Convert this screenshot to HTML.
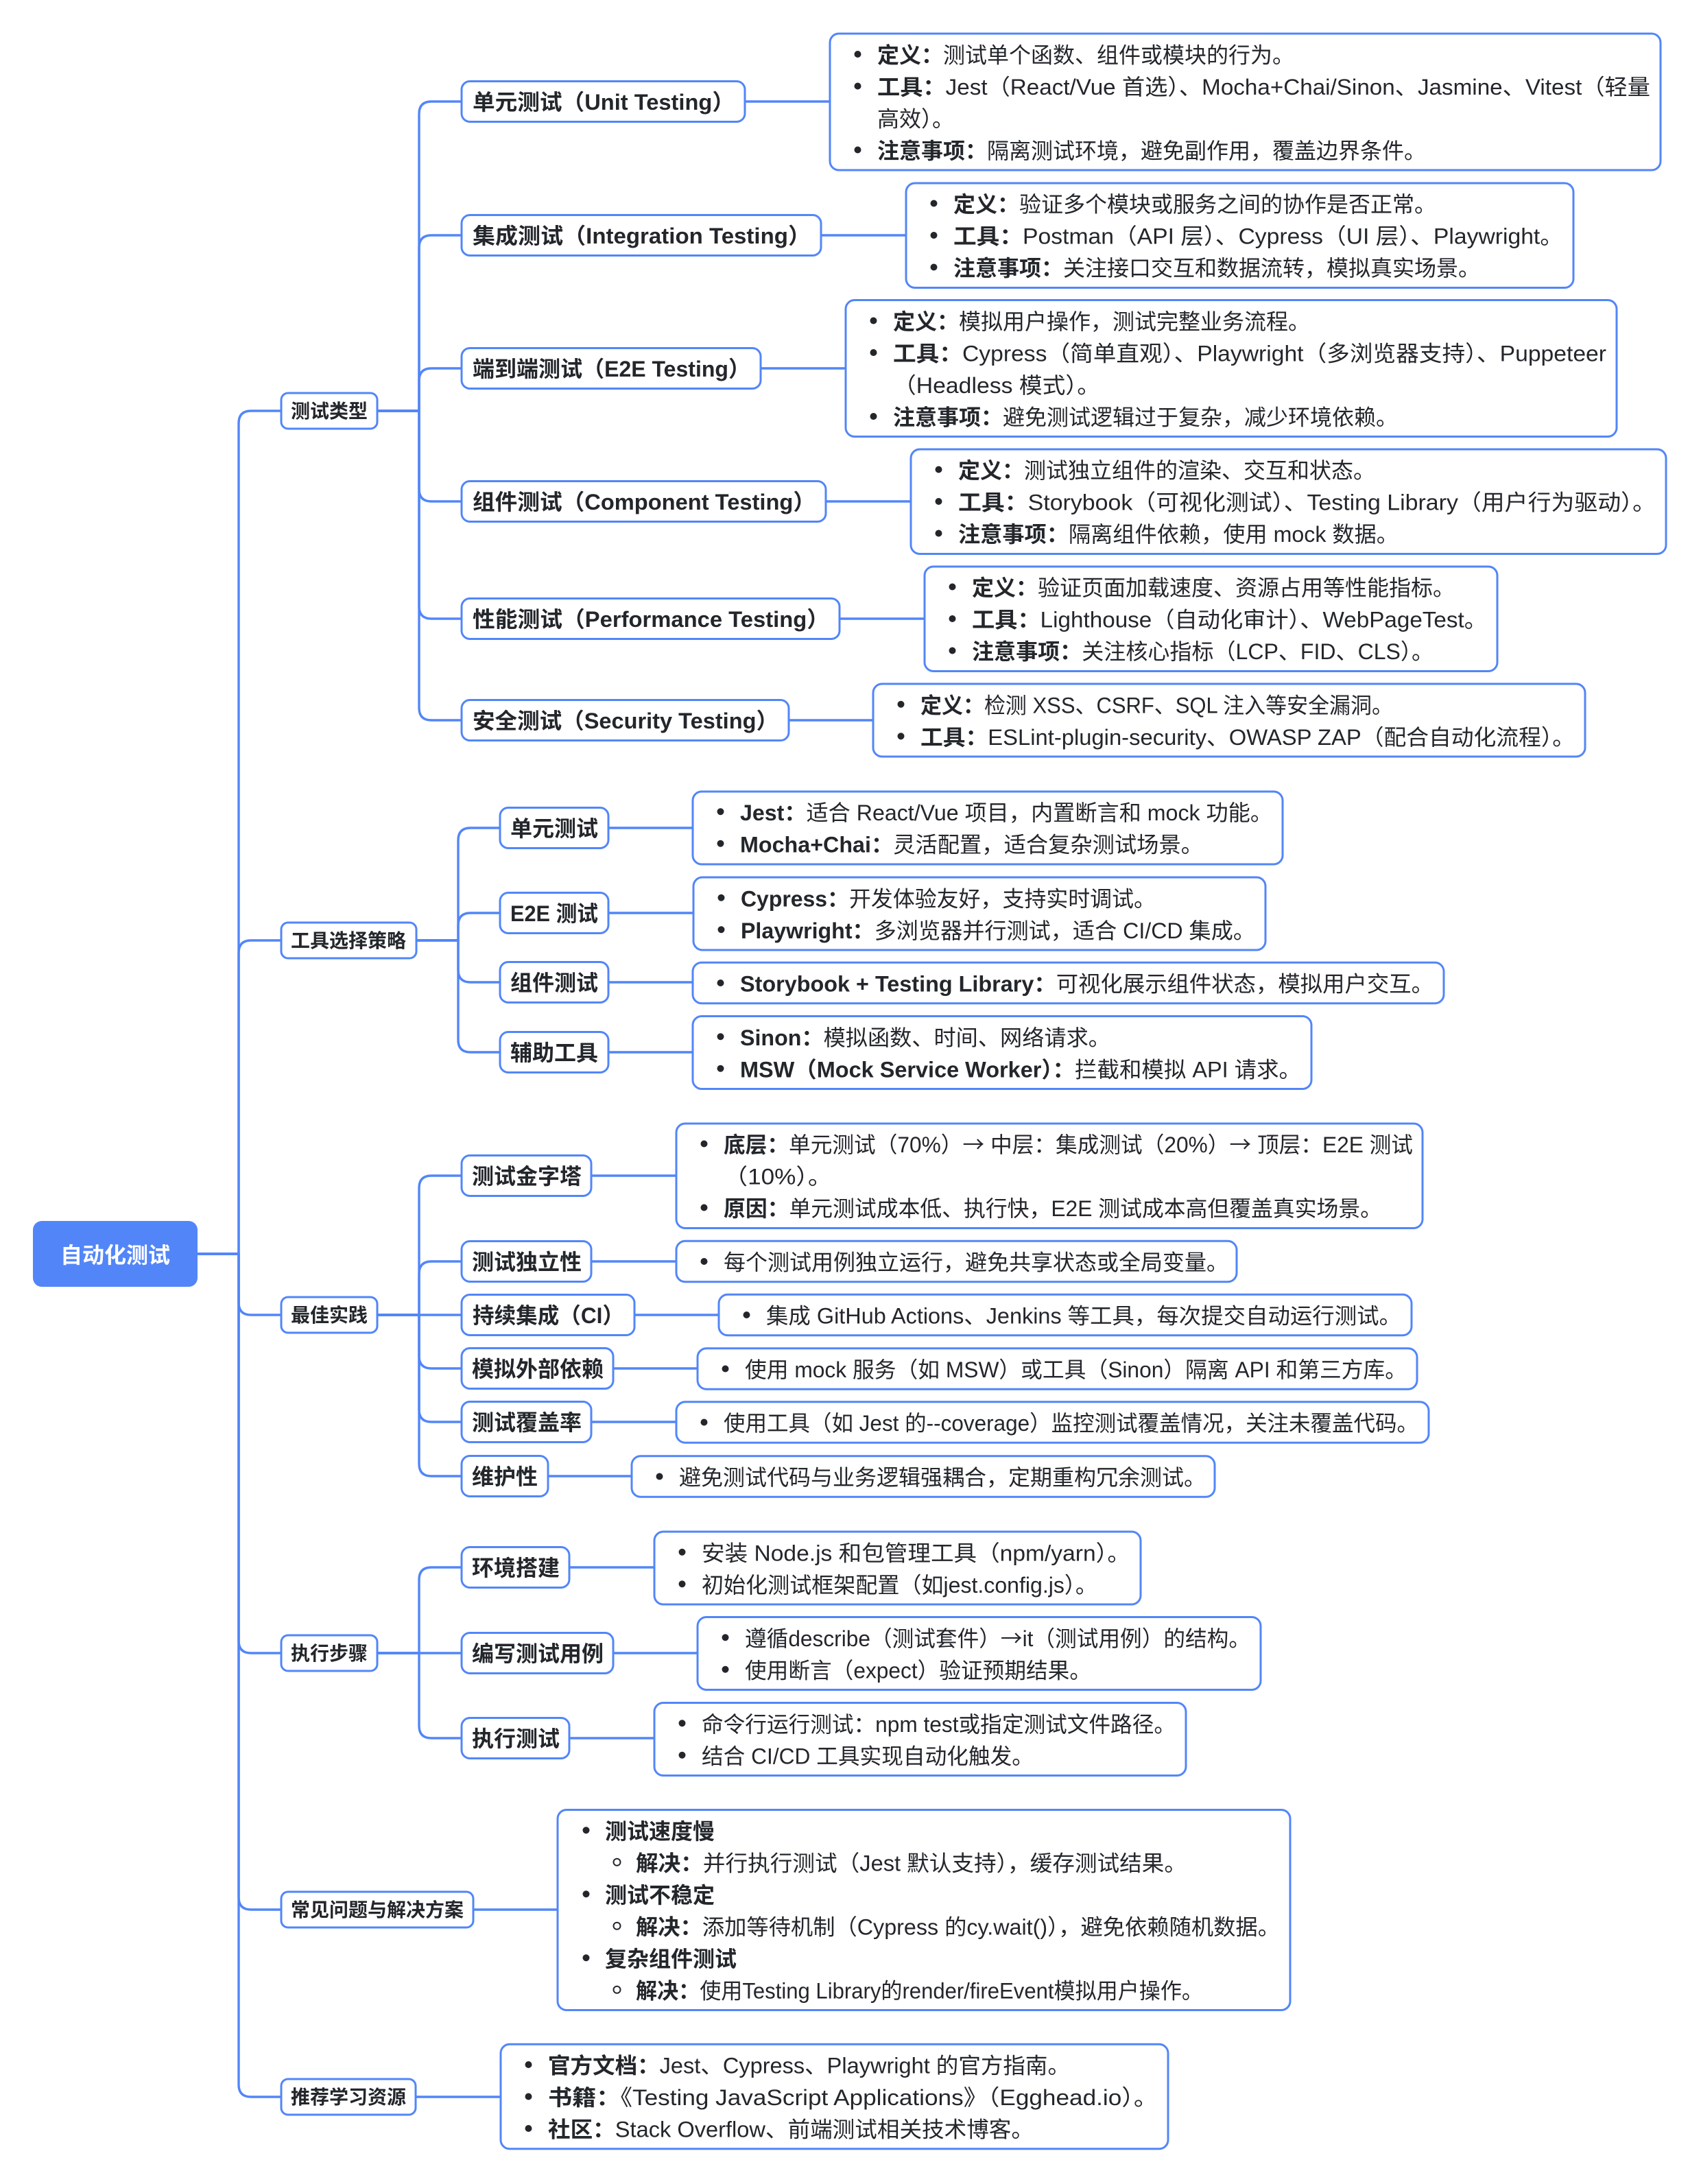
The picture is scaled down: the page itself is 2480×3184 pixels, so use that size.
<!DOCTYPE html>
<html><head><meta charset="utf-8">
<style>
html,body{margin:0;padding:0;background:#fff;}
svg{display:block;}
text{font-family:"Liberation Sans","Noto Sans CJK SC",sans-serif;font-size:32px;fill:#23262b;}
.b{font-weight:bold;}
.cj{font-family:"Noto Sans CJK SC",sans-serif;}
.n1{font-size:28px;font-weight:bold;}
.n2{font-size:32px;font-weight:bold;}
.root{font-size:32px;font-weight:bold;fill:#fff;}
.box{fill:#fff;stroke:#5286f8;stroke-width:3;}
.ln{fill:none;stroke:#5286f8;stroke-width:3.4;stroke-linecap:round;stroke-linejoin:round;}
.dot{fill:#23262b;}
.sub{fill:none;stroke:#23262b;stroke-width:2;}
</style></head>
<body>
<svg width="2480" height="3184" viewBox="0 0 2480 3184" xmlns="http://www.w3.org/2000/svg">
<rect x="0" y="0" width="2480" height="3184" fill="#fff"/>

<!-- ============ CONNECTORS ============ -->
<g class="ln">
<path d="M287 1828 H348 V617 Q348 599 366 599 H410"/>
<path d="M287 1828 H348 V1389 Q348 1371 366 1371 H410"/>
<path d="M287 1828 H348 V1899 Q348 1917 366 1917 H410"/>
<path d="M287 1828 H348 V2392 Q348 2410 366 2410 H410"/>
<path d="M287 1828 H348 V2766 Q348 2784 366 2784 H410"/>
<path d="M287 1828 H348 V3039 Q348 3057 366 3057 H410"/>

<path d="M550 599 H611 V166 Q611 148 629 148 H673"/>
<path d="M550 599 H611 V361 Q611 343 629 343 H673"/>
<path d="M550 599 H611 V555 Q611 537 629 537 H673"/>
<path d="M550 599 H611 V713 Q611 731 629 731 H673"/>
<path d="M550 599 H611 V884 Q611 902 629 902 H673"/>
<path d="M550 599 H611 V1032 Q611 1050 629 1050 H673"/>
<line x1="1086" y1="148" x2="1210" y2="148"/>
<line x1="1197" y1="343" x2="1321" y2="343"/>
<line x1="1109" y1="537" x2="1233" y2="537"/>
<line x1="1204" y1="731" x2="1328" y2="731"/>
<line x1="1224" y1="902" x2="1348" y2="902"/>
<line x1="1150" y1="1050" x2="1273" y2="1050"/>

<path d="M607 1371 H668 V1225 Q668 1207 686 1207 H729"/>
<path d="M607 1371 H668 V1349 Q668 1331 686 1331 H729"/>
<path d="M607 1371 H668 V1414 Q668 1432 686 1432 H729"/>
<path d="M607 1371 H668 V1516 Q668 1534 686 1534 H729"/>
<line x1="887" y1="1207" x2="1010" y2="1207"/>
<line x1="887" y1="1331" x2="1011" y2="1331"/>
<line x1="887" y1="1432" x2="1010" y2="1432"/>
<line x1="887" y1="1534" x2="1010" y2="1534"/>

<path d="M550 1917 H611 V1732 Q611 1714 629 1714 H673"/>
<path d="M550 1917 H611 V1857 Q611 1839 629 1839 H673"/>
<path d="M550 1917 H673"/>
<path d="M550 1917 H611 V1977 Q611 1995 629 1995 H673"/>
<path d="M550 1917 H611 V2055 Q611 2073 629 2073 H673"/>
<path d="M550 1917 H611 V2134 Q611 2152 629 2152 H673"/>
<line x1="862" y1="1714" x2="986" y2="1714"/>
<line x1="862" y1="1839" x2="986" y2="1839"/>
<line x1="925" y1="1917" x2="1048" y2="1917"/>
<line x1="894" y1="1995" x2="1017" y2="1995"/>
<line x1="862" y1="2073" x2="986" y2="2073"/>
<line x1="799" y1="2152" x2="921" y2="2152"/>

<path d="M550 2410 H611 V2303 Q611 2285 629 2285 H673"/>
<path d="M550 2410 H673"/>
<path d="M550 2410 H611 V2516 Q611 2534 629 2534 H673"/>
<line x1="830" y1="2285" x2="954" y2="2285"/>
<line x1="894" y1="2410" x2="1017" y2="2410"/>
<line x1="830" y1="2534" x2="954" y2="2534"/>

<line x1="690" y1="2784" x2="813" y2="2784"/>
<line x1="606" y1="3057" x2="730" y2="3057"/>
</g>

<!-- ============ ROOT ============ -->
<rect x="48" y="1780" width="240" height="96" rx="13" fill="#5286f8"/>
<text class="root" x="168" y="1841" text-anchor="middle">自动化测试</text>

<!-- ============ LEVEL 1 ============ -->
<rect class="box" x="410" y="573" width="140" height="52" rx="10"/>
<text class="n1" x="424" y="609">测试类型</text>
<rect class="box" x="410" y="1345" width="197" height="52" rx="10"/>
<text class="n1" x="424" y="1381">工具选择策略</text>
<rect class="box" x="410" y="1891" width="140" height="52" rx="10"/>
<text class="n1" x="424" y="1927">最佳实践</text>
<rect class="box" x="410" y="2384" width="140" height="52" rx="10"/>
<text class="n1" x="424" y="2420">执行步骤</text>
<rect class="box" x="410" y="2758" width="280" height="52" rx="10"/>
<text class="n1" x="424" y="2794">常见问题与解决方案</text>
<rect class="box" x="410" y="3031" width="196" height="52" rx="10"/>
<text class="n1" x="424" y="3067">推荐学习资源</text>

<!-- ============ LEVEL 2 ============ -->
<rect class="box" x="673" y="118.5" width="413" height="59" rx="12"/>
<text class="n2" x="689" y="160" textLength="382" lengthAdjust="spacingAndGlyphs">单元测试（Unit Testing）</text>
<rect class="box" x="673" y="313.5" width="524" height="59" rx="12"/>
<text class="n2" x="689" y="355" textLength="493" lengthAdjust="spacingAndGlyphs">集成测试（Integration Testing）</text>
<rect class="box" x="673" y="507.5" width="436" height="59" rx="12"/>
<text class="n2" x="689" y="549" textLength="405" lengthAdjust="spacingAndGlyphs">端到端测试（E2E Testing）</text>
<rect class="box" x="673" y="701.5" width="531" height="59" rx="12"/>
<text class="n2" x="689" y="743" textLength="500" lengthAdjust="spacingAndGlyphs">组件测试（Component Testing）</text>
<rect class="box" x="673" y="872.5" width="551" height="59" rx="12"/>
<text class="n2" x="689" y="914" textLength="520" lengthAdjust="spacingAndGlyphs">性能测试（Performance Testing）</text>
<rect class="box" x="673" y="1020.5" width="477" height="59" rx="12"/>
<text class="n2" x="689" y="1062" textLength="446" lengthAdjust="spacingAndGlyphs">安全测试（Security Testing）</text>

<rect class="box" x="729" y="1177.5" width="158" height="59" rx="12"/>
<text class="n2" x="744" y="1219">单元测试</text>
<rect class="box" x="729" y="1301.5" width="158" height="59" rx="12"/>
<text class="n2" x="744" y="1343" textLength="128" lengthAdjust="spacingAndGlyphs">E2E 测试</text>
<rect class="box" x="729" y="1402.5" width="158" height="59" rx="12"/>
<text class="n2" x="744" y="1444">组件测试</text>
<rect class="box" x="729" y="1504.5" width="158" height="59" rx="12"/>
<text class="n2" x="744" y="1546">辅助工具</text>

<rect class="box" x="673" y="1684.5" width="189" height="59" rx="12"/>
<text class="n2" x="688" y="1726">测试金字塔</text>
<rect class="box" x="673" y="1809.5" width="189" height="59" rx="12"/>
<text class="n2" x="688" y="1851">测试独立性</text>
<rect class="box" x="673" y="1887.5" width="252" height="59" rx="12"/>
<text class="n2" x="689" y="1929" textLength="221" lengthAdjust="spacingAndGlyphs">持续集成（CI）</text>
<rect class="box" x="673" y="1965.5" width="221" height="59" rx="12"/>
<text class="n2" x="688" y="2007">模拟外部依赖</text>
<rect class="box" x="673" y="2043.5" width="189" height="59" rx="12"/>
<text class="n2" x="688" y="2085">测试覆盖率</text>
<rect class="box" x="673" y="2122.5" width="126" height="59" rx="12"/>
<text class="n2" x="688" y="2164">维护性</text>

<rect class="box" x="673" y="2255.5" width="157" height="59" rx="12"/>
<text class="n2" x="688" y="2297">环境搭建</text>
<rect class="box" x="673" y="2380.5" width="221" height="59" rx="12"/>
<text class="n2" x="688" y="2422">编写测试用例</text>
<rect class="box" x="673" y="2504.5" width="157" height="59" rx="12"/>
<text class="n2" x="688" y="2546">执行测试</text>

<!-- ============ DETAIL BOXES ============ -->
<rect class="box" x="1210" y="49" width="1211" height="199" rx="13"/>
<circle class="dot" cx="1250.5" cy="79" r="5"/>
<text x="1279" y="91.5"><tspan class="b">定义：</tspan>测试单个函数、组件或模块的行为。</text>
<circle class="dot" cx="1250.5" cy="125.5" r="5"/>
<text x="1279" y="138" textLength="1127" lengthAdjust="spacingAndGlyphs"><tspan class="b">工具：</tspan>Jest（React/Vue 首选）、Mocha+Chai/Sinon、Jasmine、Vitest（轻量</text>
<text x="1279" y="184.5">高效）。</text>
<circle class="dot" cx="1250.5" cy="218.5" r="5"/>
<text x="1279" y="231"><tspan class="b">注意事项：</tspan>隔离测试环境，避免副作用，覆盖边界条件。</text>

<rect class="box" x="1321" y="267" width="973" height="152.5" rx="13"/>
<circle class="dot" cx="1361.5" cy="296.5" r="5"/>
<text x="1390" y="309"><tspan class="b">定义：</tspan>验证多个模块或服务之间的协作是否正常。</text>
<circle class="dot" cx="1361.5" cy="343" r="5"/>
<text x="1390" y="355.5" textLength="889" lengthAdjust="spacingAndGlyphs"><tspan class="b">工具：</tspan>Postman（API 层）、Cypress（UI 层）、Playwright。</text>
<circle class="dot" cx="1361.5" cy="389.5" r="5"/>
<text x="1390" y="402"><tspan class="b">注意事项：</tspan>关注接口交互和数据流转，模拟真实场景。</text>

<rect class="box" x="1233" y="437.5" width="1124" height="199" rx="13"/>
<circle class="dot" cx="1273.5" cy="467.5" r="5"/>
<text x="1302" y="480"><tspan class="b">定义：</tspan>模拟用户操作，测试完整业务流程。</text>
<circle class="dot" cx="1273.5" cy="514" r="5"/>
<text x="1302" y="526.5" textLength="1040" lengthAdjust="spacingAndGlyphs"><tspan class="b">工具：</tspan>Cypress（简单直观）、Playwright（多浏览器支持）、Puppeteer</text>
<text x="1302" y="573" textLength="302" lengthAdjust="spacingAndGlyphs">（Headless 模式）。</text>
<circle class="dot" cx="1273.5" cy="607" r="5"/>
<text x="1302" y="619.5"><tspan class="b">注意事项：</tspan>避免测试逻辑过于复杂，减少环境依赖。</text>

<rect class="box" x="1328" y="655" width="1101" height="152.5" rx="13"/>
<circle class="dot" cx="1368.5" cy="684.5" r="5"/>
<text x="1397" y="697"><tspan class="b">定义：</tspan>测试独立组件的渲染、交互和状态。</text>
<circle class="dot" cx="1368.5" cy="731" r="5"/>
<text x="1397" y="743.5" textLength="1017" lengthAdjust="spacingAndGlyphs"><tspan class="b">工具：</tspan>Storybook（可视化测试）、Testing Library（用户行为驱动）。</text>
<circle class="dot" cx="1368.5" cy="777.5" r="5"/>
<text x="1397" y="790" textLength="642" lengthAdjust="spacingAndGlyphs"><tspan class="b">注意事项：</tspan>隔离组件依赖，使用 mock 数据。</text>

<rect class="box" x="1348" y="826" width="835" height="152.5" rx="13"/>
<circle class="dot" cx="1388.5" cy="855.5" r="5"/>
<text x="1417" y="868"><tspan class="b">定义：</tspan>验证页面加载速度、资源占用等性能指标。</text>
<circle class="dot" cx="1388.5" cy="902" r="5"/>
<text x="1417" y="914.5" textLength="751" lengthAdjust="spacingAndGlyphs"><tspan class="b">工具：</tspan>Lighthouse（自动化审计）、WebPageTest。</text>
<circle class="dot" cx="1388.5" cy="948.5" r="5"/>
<text x="1417" y="961" textLength="673" lengthAdjust="spacingAndGlyphs"><tspan class="b">注意事项：</tspan>关注核心指标（LCP、FID、CLS）。</text>

<rect class="box" x="1273" y="997" width="1038" height="106" rx="13"/>
<circle class="dot" cx="1313.5" cy="1026.75" r="5"/>
<text x="1342" y="1039.25" textLength="689" lengthAdjust="spacingAndGlyphs"><tspan class="b">定义：</tspan>检测 XSS、CSRF、SQL 注入等安全漏洞。</text>
<circle class="dot" cx="1313.5" cy="1073.25" r="5"/>
<text x="1342" y="1085.75" textLength="954" lengthAdjust="spacingAndGlyphs"><tspan class="b">工具：</tspan>ESLint-plugin-security、OWASP ZAP（配合自动化流程）。</text>

<rect class="box" x="1010" y="1154" width="860" height="106" rx="13"/>
<circle class="dot" cx="1050.5" cy="1183.25" r="5"/>
<text x="1079" y="1195.75" textLength="776" lengthAdjust="spacingAndGlyphs"><tspan class="b">Jest：</tspan>适合 React/Vue 项目，内置断言和 mock 功能。</text>
<circle class="dot" cx="1050.5" cy="1229.75" r="5"/>
<text x="1079" y="1242.25" textLength="675" lengthAdjust="spacingAndGlyphs"><tspan class="b">Mocha+Chai：</tspan>灵活配置，适合复杂测试场景。</text>

<rect class="box" x="1011" y="1279" width="834" height="106" rx="13"/>
<circle class="dot" cx="1051.5" cy="1308.75" r="5"/>
<text x="1080" y="1321.25" textLength="605" lengthAdjust="spacingAndGlyphs"><tspan class="b">Cypress：</tspan>开发体验友好，支持实时调试。</text>
<circle class="dot" cx="1051.5" cy="1355.25" r="5"/>
<text x="1080" y="1367.75" textLength="750" lengthAdjust="spacingAndGlyphs"><tspan class="b">Playwright：</tspan>多浏览器并行测试，适合 CI/CD 集成。</text>

<rect class="box" x="1010" y="1403.25" width="1095" height="59.5" rx="13"/>
<circle class="dot" cx="1050.5" cy="1433" r="5"/>
<text x="1079" y="1445.5" textLength="1011" lengthAdjust="spacingAndGlyphs"><tspan class="b">Storybook + Testing Library：</tspan>可视化展示组件状态，模拟用户交互。</text>

<rect class="box" x="1010" y="1481.5" width="902" height="106" rx="13"/>
<circle class="dot" cx="1050.5" cy="1511.25" r="5"/>
<text x="1079" y="1523.75" textLength="540" lengthAdjust="spacingAndGlyphs"><tspan class="b">Sinon：</tspan>模拟函数、时间、网络请求。</text>
<circle class="dot" cx="1050.5" cy="1557.75" r="5"/>
<text x="1079" y="1570.25" textLength="818" lengthAdjust="spacingAndGlyphs"><tspan class="b">MSW（Mock Service Worker）：</tspan>拦截和模拟 API 请求。</text>

<rect class="box" x="986" y="1638" width="1088" height="152.5" rx="13"/>
<circle class="dot" cx="1026.5" cy="1667.5" r="5"/>
<text x="1055" y="1680" textLength="1005" lengthAdjust="spacingAndGlyphs"><tspan class="b">底层：</tspan>单元测试（70%）<tspan class="cj">→</tspan> 中层：集成测试（20%）<tspan class="cj">→</tspan> 顶层：E2E 测试</text>
<text x="1055" y="1726.5" textLength="158" lengthAdjust="spacingAndGlyphs">（10%）。</text>
<circle class="dot" cx="1026.5" cy="1760.5" r="5"/>
<text x="1055" y="1773" textLength="960" lengthAdjust="spacingAndGlyphs"><tspan class="b">原因：</tspan>单元测试成本低、执行快，E2E 测试成本高但覆盖真实场景。</text>

<rect class="box" x="986" y="1809.25" width="817" height="59.5" rx="13"/>
<circle class="dot" cx="1026.5" cy="1839" r="5"/>
<text x="1055" y="1851.5">每个测试用例独立运行，避免共享状态或全局变量。</text>

<rect class="box" x="1048" y="1887.25" width="1010" height="59.5" rx="13"/>
<circle class="dot" cx="1088.5" cy="1917" r="5"/>
<text x="1117" y="1929.5" textLength="926" lengthAdjust="spacingAndGlyphs">集成 GitHub Actions、Jenkins 等工具，每次提交自动运行测试。</text>

<rect class="box" x="1017" y="1965.75" width="1049" height="59.5" rx="13"/>
<circle class="dot" cx="1057.5" cy="1995.5" r="5"/>
<text x="1086" y="2008" textLength="965" lengthAdjust="spacingAndGlyphs">使用 mock 服务（如 MSW）或工具（Sinon）隔离 API 和第三方库。</text>

<rect class="box" x="986" y="2043.75" width="1097" height="59.5" rx="13"/>
<circle class="dot" cx="1026.5" cy="2073.5" r="5"/>
<text x="1055" y="2086" textLength="1013" lengthAdjust="spacingAndGlyphs">使用工具（如 Jest 的--coverage）监控测试覆盖情况，关注未覆盖代码。</text>

<rect class="box" x="921" y="2122.75" width="850" height="59.5" rx="13"/>
<circle class="dot" cx="961.5" cy="2152.5" r="5"/>
<text x="990" y="2165">避免测试代码与业务逻辑强耦合，定期重构冗余测试。</text>

<rect class="box" x="954" y="2233" width="709" height="106" rx="13"/>
<circle class="dot" cx="994.5" cy="2262.75" r="5"/>
<text x="1023" y="2275.25" textLength="625" lengthAdjust="spacingAndGlyphs">安装 Node.js 和包管理工具（npm/yarn）。</text>
<circle class="dot" cx="994.5" cy="2309.25" r="5"/>
<text x="1023" y="2321.75" textLength="577" lengthAdjust="spacingAndGlyphs">初始化测试框架配置（如jest.config.js）。</text>

<rect class="box" x="1017" y="2357.5" width="821" height="106" rx="13"/>
<circle class="dot" cx="1057.5" cy="2387.25" r="5"/>
<text x="1086" y="2399.75" textLength="737" lengthAdjust="spacingAndGlyphs">遵循describe（测试套件）<tspan class="cj">→</tspan>it（测试用例）的结构。</text>
<circle class="dot" cx="1057.5" cy="2433.75" r="5"/>
<text x="1086" y="2446.25" textLength="505" lengthAdjust="spacingAndGlyphs">使用断言（expect）验证预期结果。</text>

<rect class="box" x="954" y="2482.5" width="775" height="106" rx="13"/>
<circle class="dot" cx="994.5" cy="2512.25" r="5"/>
<text x="1023" y="2524.75" textLength="691" lengthAdjust="spacingAndGlyphs">命令行运行测试：npm test或指定测试文件路径。</text>
<circle class="dot" cx="994.5" cy="2558.75" r="5"/>
<text x="1023" y="2571.25" textLength="484" lengthAdjust="spacingAndGlyphs">结合 CI/CD 工具实现自动化触发。</text>

<rect class="box" x="813" y="2638.5" width="1068" height="292" rx="13"/>
<circle class="dot" cx="854.5" cy="2668.25" r="5"/>
<text x="882" y="2680.75" class="b">测试速度慢</text>
<circle class="sub" cx="899.5" cy="2714.75" r="5"/>
<text x="927" y="2727.25" textLength="803" lengthAdjust="spacingAndGlyphs"><tspan class="b">解决：</tspan>并行执行测试（Jest 默认支持），缓存测试结果。</text>
<circle class="dot" cx="854.5" cy="2761.25" r="5"/>
<text x="882" y="2773.75" class="b">测试不稳定</text>
<circle class="sub" cx="899.5" cy="2807.75" r="5"/>
<text x="927" y="2820.25" textLength="939" lengthAdjust="spacingAndGlyphs"><tspan class="b">解决：</tspan>添加等待机制（Cypress 的cy.wait()），避免依赖随机数据。</text>
<circle class="dot" cx="854.5" cy="2854.25" r="5"/>
<text x="882" y="2866.75" class="b">复杂组件测试</text>
<circle class="sub" cx="899.5" cy="2900.75" r="5"/>
<text x="927" y="2913.25" textLength="827" lengthAdjust="spacingAndGlyphs"><tspan class="b">解决：</tspan>使用Testing Library的render/fireEvent模拟用户操作。</text>

<rect class="box" x="730" y="2980.25" width="973" height="152.5" rx="13"/>
<circle class="dot" cx="770.5" cy="3010" r="5"/>
<text x="799" y="3022.5" textLength="761" lengthAdjust="spacingAndGlyphs"><tspan class="b">官方文档：</tspan>Jest、Cypress、Playwright 的官方指南。</text>
<circle class="dot" cx="770.5" cy="3056.5" r="5"/>
<text x="799" y="3069" textLength="889" lengthAdjust="spacingAndGlyphs"><tspan class="b">书籍：</tspan>《Testing JavaScript Applications》（Egghead.io）。</text>
<circle class="dot" cx="770.5" cy="3103" r="5"/>
<text x="799" y="3115.5" textLength="708" lengthAdjust="spacingAndGlyphs"><tspan class="b">社区：</tspan>Stack Overflow、前端测试相关技术博客。</text>
</svg>
</body></html>
